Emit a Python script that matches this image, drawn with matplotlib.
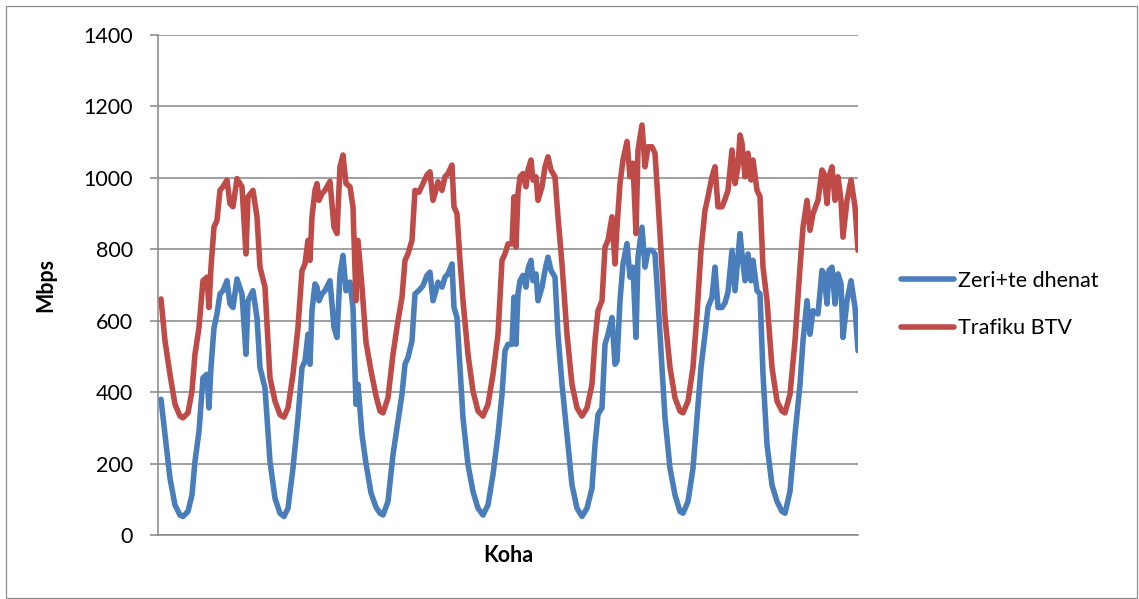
import matplotlib
matplotlib.use("Agg")
import matplotlib.pyplot as plt
from matplotlib.patches import Rectangle

# --- DATA (time in days, traffic in Mbps) ---
days = [
    0.01, 0.05, 0.10, 0.15, 0.20, 0.23, 0.28, 0.32, 0.35, 0.39, 0.43, 0.47, 0.49, 0.51, 0.54,
    0.57, 0.60, 0.63, 0.67, 0.70, 0.73, 0.77, 0.82, 0.86, 0.88, 0.93, 0.97, 1.00,
    1.05, 1.10, 1.15, 1.20, 1.24, 1.28, 1.33, 1.38, 1.42, 1.45, 1.48, 1.50, 1.52, 1.55,
    1.57, 1.59, 1.62, 1.65, 1.70, 1.74, 1.77, 1.80, 1.83, 1.86, 1.90, 1.93, 1.96, 1.98,
    2.02, 2.06, 2.11, 2.16, 2.20, 2.23, 2.28, 2.33, 2.38, 2.42, 2.45, 2.48, 2.52, 2.55,
    2.59, 2.63, 2.67, 2.70, 2.73, 2.75, 2.78, 2.82, 2.85, 2.88, 2.92, 2.94, 2.97, 3.00,
    3.03, 3.08, 3.13, 3.18, 3.23, 3.28, 3.33, 3.38, 3.42, 3.45, 3.48, 3.52, 3.54, 3.56,
    3.58, 3.60, 3.63, 3.66, 3.68, 3.71, 3.73, 3.76, 3.78, 3.82, 3.85, 3.88, 3.91, 3.95,
    3.98, 4.02, 4.07, 4.12, 4.17, 4.22, 4.27, 4.32, 4.35, 4.38, 4.42, 4.45, 4.48, 4.52,
    4.55, 4.57, 4.60, 4.63, 4.67, 4.70, 4.73, 4.76, 4.78, 4.82, 4.85, 4.88, 4.92, 4.95,
    4.98, 5.02, 5.05, 5.10, 5.15, 5.20, 5.23, 5.28, 5.33, 5.37, 5.41, 5.45, 5.48, 5.52,
    5.55, 5.58, 5.62, 5.65, 5.68, 5.72, 5.75, 5.78, 5.80, 5.82, 5.85, 5.88, 5.91, 5.93,
    5.97, 6.00, 6.03, 6.07, 6.12, 6.17, 6.22, 6.25, 6.30, 6.35, 6.40, 6.43, 6.47, 6.50,
    6.53, 6.58, 6.62, 6.64, 6.67, 6.69, 6.72, 6.75, 6.78, 6.81, 6.83, 6.87, 6.91, 6.95,
    6.98,
]

zeri_te_dhenat = [
    380, 281, 159, 84, 56, 52, 66, 112, 206, 290, 440, 450, 356, 470, 580,
    619, 675, 684, 712, 647, 637, 717, 675, 506, 656, 684, 609, 469,
    412, 206, 103, 61, 52, 75, 187, 328, 469, 487, 562, 478, 628, 703,
    694, 656, 675, 684, 712, 581, 553, 731, 783, 684, 708, 637, 366, 422,
    281, 200, 118, 78, 61, 56, 94, 225, 319, 394, 478, 497, 544, 675,
    685, 698, 727, 736, 656, 675, 708, 694, 722, 731, 759, 637, 609, 469,
    328, 197, 122, 75, 56, 84, 169, 281, 394, 516, 534, 534, 666, 534,
    675, 712, 727, 694, 745, 769, 712, 731, 656, 694, 741, 778, 741, 722,
    562, 422, 281, 140, 75, 52, 75, 131, 253, 337, 356, 534, 562, 609,
    478, 487, 656, 759, 816, 722, 750, 553, 778, 862, 750, 797, 797, 787,
    656, 469, 328, 187, 112, 66, 61, 94, 187, 328, 469, 562, 637, 666,
    750, 637, 637, 650, 680, 797, 684, 778, 844, 787, 712, 787, 712, 769,
    684, 675, 450, 253, 140, 94, 66, 61, 122, 281, 422, 544, 656, 562,
    628, 619, 741, 731, 647, 741, 750, 647, 731, 703, 553, 656, 712, 637,
    516,
]

trafiku_btv = [
    661, 544, 450, 366, 333, 328, 342, 403, 506, 581, 712, 722, 637, 750, 862,
    881, 965, 975, 994, 928, 919, 998, 975, 787, 947, 965, 891, 750,
    694, 440, 375, 337, 330, 356, 450, 581, 740, 759, 825, 769, 891, 965,
    984, 937, 956, 965, 990, 862, 844, 1031, 1064, 984, 975, 919, 656, 825,
    694, 540, 460, 390, 347, 342, 384, 506, 600, 666, 769, 787, 825, 965,
    960, 984, 1008, 1017, 937, 956, 989, 965, 1003, 1012, 1036, 919, 900, 769,
    656, 506, 403, 347, 333, 366, 450, 562, 769, 787, 815, 815, 947, 806,
    956, 1003, 1012, 975, 1022, 1050, 994, 1003, 937, 975, 1031, 1059, 1022, 1003,
    891, 759, 562, 422, 356, 333, 356, 422, 544, 628, 656, 806, 825, 891,
    759, 862, 984, 1050, 1102, 1003, 1041, 844, 1078, 1148, 1031, 1087, 1087, 1069,
    937, 750, 609, 469, 384, 347, 342, 375, 469, 619, 797, 909, 947, 1003,
    1031, 919, 919, 940, 965, 1078, 984, 1031, 1120, 1097, 1003, 1069, 994, 1050,
    965, 947, 750, 656, 469, 375, 347, 342, 394, 544, 750, 862, 937, 853,
    900, 937, 1022, 1012, 928, 1003, 1031, 937, 1003, 937, 834, 937, 994, 919,
    797,
]

series_names = ["Zeri+te dhenat", "Trafiku BTV"]
y_ticks = [0, 200, 400, 600, 800, 1000, 1200, 1400]

plt.rcParams["font.family"] = ["Lato", "DejaVu Sans"]

# --- FIGURE ---
fig = plt.figure(figsize=(11.39, 5.99), dpi=100)
fig.patches.append(Rectangle((0.0053, 0.0017), 0.9930, 0.9880, transform=fig.transFigure,
                             fill=False, edgecolor="#8c8c8c", linewidth=0.9))
ax = fig.add_axes([0.1387, 0.1068, 0.6146, 0.8348])

ax.plot(days, zeri_te_dhenat, color="#4a7ebb", lw=4.0, solid_joinstyle="round",
        solid_capstyle="round", label=series_names[0])
ax.plot(days, trafiku_btv, color="#be4b48", lw=4.0, solid_joinstyle="round",
        solid_capstyle="round", label=series_names[1])

ax.set_ylim(0, 1400)
ax.set_xlim(days[0] - 0.03, days[-1])
ax.set_yticks(y_ticks)
ax.set_xticks([])
ax.grid(axis="y", color="#868686", linewidth=1.1)
ax.set_axisbelow(True)
for side in ["top", "right"]:
    ax.spines[side].set_visible(False)
for side in ["left", "bottom"]:
    ax.spines[side].set_color("#868686")
    ax.spines[side].set_linewidth(1.1)
ax.tick_params(axis="y", length=6, width=1.1, color="#868686", pad=12, labelsize=15.5)

ax.set_ylabel("Mbps", fontsize=15.5, fontweight="bold")
ax.yaxis.set_label_coords(-0.145, 0.5)
ax.set_xlabel("Koha", fontsize=15.5, fontweight="bold")
ax.xaxis.set_label_coords(0.5, -0.02)

ax.legend(loc="center left", bbox_to_anchor=(1.034, 0.461), frameon=False, fontsize=15.5,
          handlelength=2.45, handletextpad=0.2, labelspacing=1.3)

plt.savefig("out.png", dpi=100)
